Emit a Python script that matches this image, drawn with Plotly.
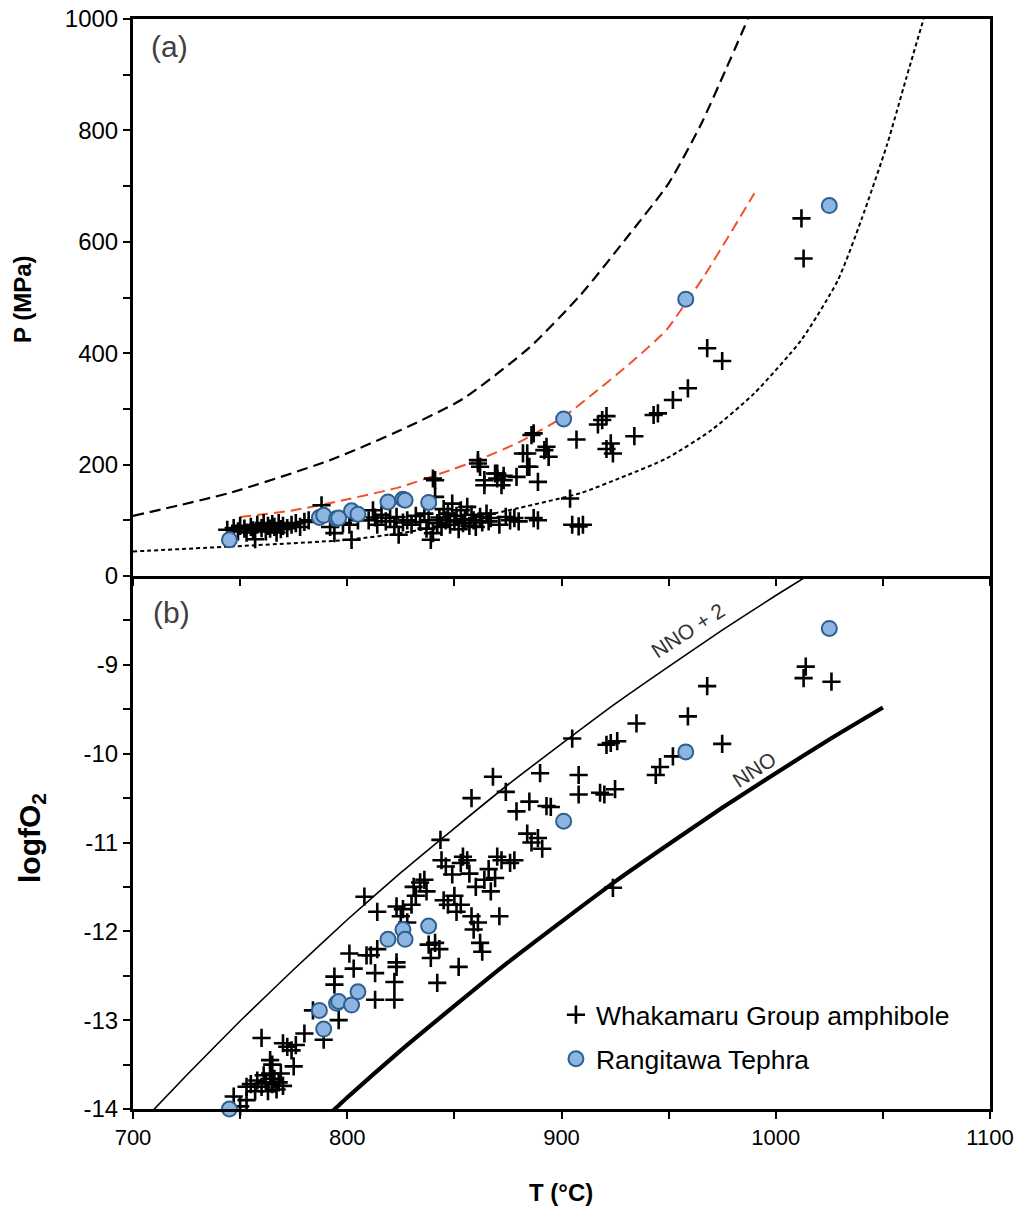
import plotly.graph_objects as go

# ---------------- (a) Pressure vs temperature ----------------
# Whakamaru Group amphibole
amph_T_p = [744, 747, 749, 750, 752, 753, 755, 756, 757, 758, 760, 761, 762, 763, 764,
            765, 766, 767, 768, 769, 770, 772, 774, 776, 778, 780, 782,
            788, 792, 794, 798, 801, 802, 805, 810, 812, 813, 814, 816, 818, 820,
            822, 823, 824, 826, 828, 830, 832, 834, 836, 837, 838, 839, 840, 840,
            841, 841, 842, 843, 844, 845, 846, 847, 848, 849, 850, 851, 852, 853,
            854, 855, 856, 857, 858, 859, 860, 861, 861, 862, 862, 863, 864, 864,
            865, 866, 867, 869, 870, 870, 871, 872, 873, 873, 874, 876, 878, 879,
            880, 882, 884, 884, 885, 886, 887, 887, 889, 889, 892, 893, 894, 904,
            905, 907, 908, 910, 917, 919, 921, 921, 923, 924, 934, 943, 945, 952,
            959, 968, 975, 1012, 1013]
amph_P = [83, 86, 80, 90, 85, 78, 88, 82, 66, 92, 86, 95, 80, 90, 85,
          93, 88, 78, 95, 84, 90, 86, 92, 95, 88, 97, 100,
          127, 88, 77, 95, 92, 65, 100, 100, 118, 105, 92, 110, 98, 104,
          88, 106, 74, 96, 100, 92, 108, 97, 112, 85, 100, 65, 77, 175,
          142, 172, 95, 105, 88, 120, 100, 112, 92, 130, 98, 108, 84, 118,
          95, 102, 124, 90, 110, 100, 88, 202, 208, 196, 106, 96, 163, 172,
          112, 98, 104, 184, 175, 184, 92, 163, 180, 172, 106, 100, 104, 178,
          98, 220, 196, 220, 196, 253, 104, 256, 169, 100, 226, 232, 214, 139,
          92, 245, 89, 92, 272, 280, 287, 228, 238, 220, 251, 289, 292, 316,
          337, 409, 386, 642, 570]

# Rangitawa Tephra
teph_T = [745, 787, 789, 795, 796, 802, 805, 819, 826, 827, 838, 901, 958, 1025]
teph_P = [65, 105, 109, 103, 104, 117, 111, 133, 138, 136, 132, 282, 497, 665]
teph_fO2 = [-14.0, -12.89, -13.10, -12.81, -12.79, -12.83, -12.68, -12.09, -11.98,
            -12.09, -11.94, -10.76, -9.98, -8.59]

# Reference curves in P-T space
upper_T = [700, 745, 792, 825, 854, 885, 909, 931, 950, 965, 977, 987]
upper_P = [108, 149, 208, 262, 318, 410, 505, 610, 705, 810, 912, 1000]

lower_T = [700, 746, 800, 830, 854, 880, 909, 930, 949, 970, 990, 1012, 1029, 1040, 1052, 1061, 1069]
lower_P = [44, 53, 65, 80, 100, 122, 149, 180, 211, 262, 328, 424, 531, 640, 775, 895, 1000]

red_T = [750, 775, 798, 825, 848, 861, 880, 901, 915, 933, 949, 959, 966, 978, 990]
red_P = [106, 118, 136, 160, 190, 208, 240, 286, 328, 385, 442, 496, 535, 610, 687]

# ---------------- (b) logfO2 vs temperature ----------------
amph_T_f = [747, 750, 753, 753, 755, 757, 758, 760, 760, 761, 762, 763, 764, 764, 765,
            765, 766, 767, 768, 769, 770, 770, 772, 774, 775, 776, 780, 784, 789,
            794, 794, 796, 801, 803, 808, 809, 811, 813, 813, 814, 814, 822, 822,
            823, 823, 823, 825, 826, 828, 830, 831, 832, 834, 836, 837, 838, 839,
            841, 842, 843, 843.5, 844, 845, 846, 847, 849, 850, 851, 852, 853, 853,
            854, 856, 857, 858, 858, 859, 860, 861, 862, 863, 864, 866, 867, 868,
            869, 870, 871, 872, 874, 876, 878, 879, 884, 885, 886, 889, 890, 891,
            893, 895, 905, 908, 908, 918, 920, 921, 923, 924, 925, 926, 935, 944,
            946, 952, 959, 968, 975, 1013, 1014, 1026]
amph_fO2 = [-13.86, -13.97, -13.9, -13.75, -13.72, -13.8, -13.68, -13.2, -13.75, -13.62,
            -13.7, -13.8, -13.45, -13.6, -13.5, -13.72, -13.66, -13.78, -13.7, -13.6,
            -13.26, -13.74, -13.3, -13.34, -13.52, -13.28, -13.15, -12.89, -13.22,
            -12.51, -12.6, -13.0, -12.25, -12.42, -11.61, -12.27, -12.27, -12.47,
            -12.77, -11.78, -12.2, -12.57, -12.77, -12.4, -12.35, -11.72, -11.83,
            -11.75, -11.9, -11.7, -11.5, -11.6, -11.45, -11.42, -11.55, -12.15,
            -12.3, -12.13, -12.58, -12.2, -10.97, -11.2, -11.65, -11.27, -11.7,
            -11.36, -11.6, -11.78, -12.4, -11.23, -11.7, -11.16, -11.2, -11.35,
            -11.83, -10.5, -11.98, -11.5, -11.9, -12.13, -12.23, -11.42, -11.3,
            -11.55, -10.26, -11.4, -11.16, -11.83, -11.2, -10.43, -11.23, -11.2,
            -10.65, -10.9, -10.54, -11.0, -10.95, -10.22, -11.07, -10.59, -10.6,
            -9.83, -10.24, -10.46, -10.44, -10.46, -9.9, -9.88, -11.51, -10.4,
            -9.86, -9.66, -10.24, -10.15, -10.03, -9.58, -9.24, -9.89, -9.15,
            -9.02, -9.19]

# Oxygen buffer curves
nno2_T = [706, 725, 750, 775, 800, 825, 850, 875, 900, 925, 950, 975, 1000, 1020]
nno2_f = [-14.10, -13.62, -13.01, -12.43, -11.87, -11.34, -10.84, -10.35, -9.89,
          -9.44, -9.02, -8.61, -8.22, -7.92]
nno_T = [792, 800, 825, 850, 875, 900, 925, 950, 975, 1000, 1025, 1050]
nno_f = [-14.05, -13.87, -13.34, -12.84, -12.35, -11.89, -11.44, -11.02, -10.61,
         -10.22, -9.84, -9.48]

FONT = "Liberation Sans, Arial, sans-serif"
CROSS = dict(symbol="cross-thin", size=13, line=dict(width=2.6, color="black"), color="black")
DOT = dict(symbol="circle", size=15, color="#8DB5E2", line=dict(width=2, color="#2F5F8F"))

fig = go.Figure()

# panel (a)
fig.add_trace(go.Scatter(x=upper_T, y=upper_P, mode="lines", xaxis="x", yaxis="y",
                         line=dict(color="black", width=2.2, dash="11px,6px", shape="spline",
                                   smoothing=0.6), showlegend=False))
fig.add_trace(go.Scatter(x=lower_T, y=lower_P, mode="lines", xaxis="x", yaxis="y",
                         line=dict(color="black", width=2, dash="4px,3px", shape="spline",
                                   smoothing=0.6), showlegend=False))
fig.add_trace(go.Scatter(x=red_T, y=red_P, mode="lines", xaxis="x", yaxis="y",
                         line=dict(color="#F0502A", width=2, dash="11px,6px", shape="spline",
                                   smoothing=0.6), showlegend=False))
fig.add_trace(go.Scatter(x=amph_T_p, y=amph_P, mode="markers", xaxis="x", yaxis="y",
                         marker=CROSS, showlegend=False, cliponaxis=False))
fig.add_trace(go.Scatter(x=teph_T, y=teph_P, mode="markers", xaxis="x", yaxis="y",
                         marker=DOT, showlegend=False, cliponaxis=False))

# panel (b)
fig.add_trace(go.Scatter(x=nno2_T, y=nno2_f, mode="lines", xaxis="x2", yaxis="y2",
                         line=dict(color="black", width=1.6, shape="spline", smoothing=0.5),
                         showlegend=False))
fig.add_trace(go.Scatter(x=nno_T, y=nno_f, mode="lines", xaxis="x2", yaxis="y2",
                         line=dict(color="black", width=4.2, shape="spline", smoothing=0.5),
                         showlegend=False))
fig.add_trace(go.Scatter(x=amph_T_f, y=amph_fO2, mode="markers", xaxis="x2", yaxis="y2",
                         marker=CROSS, name="Whakamaru Group amphibole",
                         legend="legend", cliponaxis=False))
fig.add_trace(go.Scatter(x=teph_T, y=teph_fO2, mode="markers", xaxis="x2", yaxis="y2",
                         marker=DOT, name="Rangitawa Tephra",
                         legend="legend2", cliponaxis=False))

axis_common = dict(showgrid=False, zeroline=False, showline=True, linewidth=3,
                   linecolor="black", ticks="outside", ticklen=7,
                   tickwidth=2, tickcolor="black", automargin=False)
minor_common = dict(ticks="outside", ticklen=7, tickwidth=2, tickcolor="black")
yfont = dict(family=FONT, size=24, color="black")
xfont = dict(family=FONT, size=22, color="black")

split = 0.489
legend_common = dict(xanchor="left", yanchor="middle",
                     font=dict(family=FONT, size=26.5, color="black"),
                     bgcolor="rgba(0,0,0,0)", itemwidth=30)
fig.update_layout(
    width=1027, height=1214,
    margin=dict(l=133, r=37, t=19, b=105, autoexpand=False),
    paper_bgcolor="white", plot_bgcolor="white",
    font=dict(family=FONT, color="black"),
    xaxis=dict(axis_common, domain=[0, 1], range=[700, 1100], anchor="y", mirror=True,
               tickvals=list(range(700, 1101, 50)), showticklabels=False),
    yaxis=dict(axis_common, domain=[split, 1], range=[0, 1000], anchor="x", mirror=True,
               tickvals=list(range(0, 1001, 200)), tickfont=yfont,
               minor=dict(minor_common, tickvals=list(range(100, 1000, 200)))),
    xaxis2=dict(axis_common, domain=[0, 1], range=[700, 1100], anchor="y2", mirror=False,
                tickvals=list(range(700, 1101, 100)), tickfont=xfont,
                minor=dict(minor_common, tickvals=list(range(750, 1100, 100)))),
    yaxis2=dict(axis_common, domain=[0, split], range=[-14, -8], anchor="x2", mirror=True,
                tickvals=[-14, -13, -12, -11, -10, -9], tickfont=yfont,
                ticktext=["-14", "-13", "-12", "-11", "-10", "-9"],
                minor=dict(minor_common, tickvals=[-13.5, -12.5, -11.5, -10.5, -9.5, -8.5])),
    legend=dict(legend_common, x=0.4935, y=(1109 - 1015) / 1090),
    legend2=dict(legend_common, x=0.4935, y=(1109 - 1059) / 1090),
)

annotations = [
    dict(text="(a)", x=0.019, y=(1109 - 46) / 1090, xref="paper", yref="paper",
         xanchor="left", yanchor="middle", showarrow=False,
         font=dict(family=FONT, size=30, color="#404040")),
    dict(text="(b)", x=0.021, y=(1109 - 612) / 1090, xref="paper", yref="paper",
         xanchor="left", yanchor="middle", showarrow=False,
         font=dict(family=FONT, size=30, color="#404040")),
    dict(text="NNO + 2", x=959, y=-8.615, xref="x2", yref="y2", textangle=-33,
         xanchor="center", yanchor="middle",
         showarrow=False, font=dict(family=FONT, size=21, color="#333333")),
    dict(text="NNO", x=990, y=-10.18, xref="x2", yref="y2", textangle=-33,
         xanchor="center", yanchor="middle",
         showarrow=False, font=dict(family=FONT, size=21, color="#333333")),
    dict(text="<b>P (MPa)</b>", x=22, y=1214 - 299, xref="paper", yref="paper",
         textangle=-90, showarrow=False, font=dict(family=FONT, size=24, color="black")),
    dict(text="<b>logfO<sub>2</sub></b>", x=31, y=1214 - 838, xref="paper",
         yref="paper", textangle=-90, showarrow=False,
         font=dict(family=FONT, size=30, color="black")),
    dict(text="<b>T (°C)</b>", x=561, y=1214 - 1192, xref="paper", yref="paper",
         showarrow=False, font=dict(family=FONT, size=24, color="black")),
]

# axis titles are placed in pixel positions, converted to paper fractions
plot_l, plot_b, plot_w, plot_h = 133, 105, 1027 - 133 - 37, 1214 - 19 - 105
for a in annotations[4:]:
    a["x"] = (a["x"] - plot_l) / plot_w
    a["y"] = (a["y"] - plot_b) / plot_h
    a["xanchor"] = "center"
    a["yanchor"] = "middle"
fig.update_layout(annotations=annotations)

fig.write_html("out.html")
